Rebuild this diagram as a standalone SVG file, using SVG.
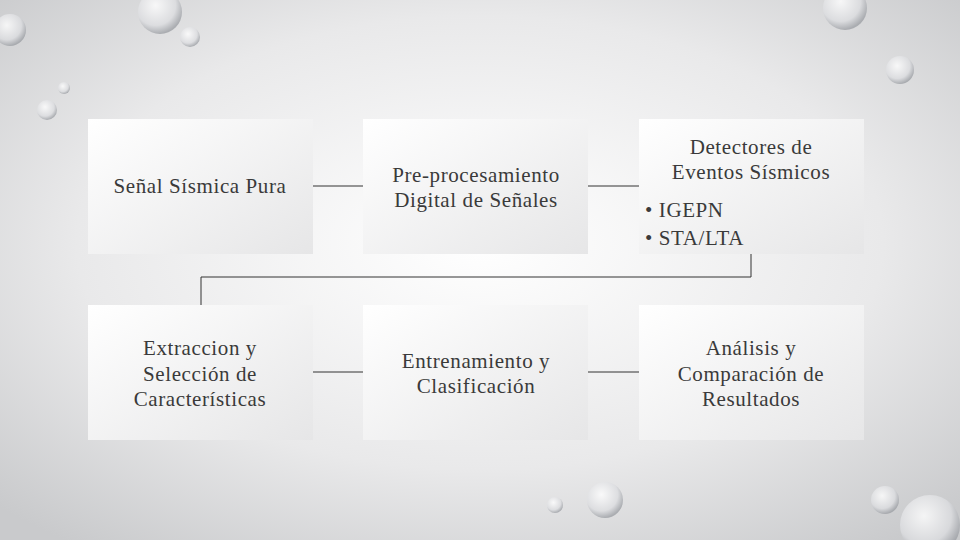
<svg xmlns="http://www.w3.org/2000/svg" width="960" height="540" viewBox="0 0 960 540">
<defs>
<radialGradient id="bg" cx="50%" cy="45%" r="70%">
<stop offset="0" stop-color="#ffffff"/><stop offset="0.6" stop-color="#e9e9ea"/><stop offset="1" stop-color="#c9cacc"/>
</radialGradient>
<linearGradient id="box" x1="0" y1="0" x2="1" y2="1">
<stop offset="0" stop-color="#ffffff"/><stop offset="1" stop-color="#e6e6e7"/>
</linearGradient>
<radialGradient id="drop" cx="40%" cy="35%" r="65%">
<stop offset="0" stop-color="#ffffff"/><stop offset="0.7" stop-color="#dcdde0"/><stop offset="1" stop-color="#9ea1a6"/>
</radialGradient>
<style>
.n{fill:url(#box)}
.t{font-family:"Liberation Serif",serif;font-size:21px;letter-spacing:0.6px;fill:#3a3a3a;text-anchor:middle}
.tl{font-family:"Liberation Serif",serif;font-size:21px;letter-spacing:0.6px;fill:#3a3a3a}
.c{stroke:#333;stroke-width:1;fill:none}
.d{fill:url(#drop);opacity:0.8}
</style>
</defs>
<rect width="960" height="540" fill="url(#bg)"/>
<g>
<circle class="d" cx="160" cy="12" r="22"/><circle class="d" cx="190" cy="37" r="10"/><circle class="d" cx="47" cy="110" r="10"/><circle class="d" cx="64" cy="88" r="6"/>
<circle class="d" cx="845" cy="8" r="22"/><circle class="d" cx="900" cy="70" r="14"/><circle class="d" cx="930" cy="525" r="30"/><circle class="d" cx="885" cy="500" r="14"/>
<circle class="d" cx="605" cy="500" r="18"/><circle class="d" cx="555" cy="505" r="8"/><circle class="d" cx="10" cy="30" r="16"/>
</g>
<g id="connectors">
<line class="c" x1="313" y1="186" x2="363" y2="186"/>
<line class="c" x1="588" y1="186" x2="639" y2="186"/>
<line class="c" x1="313" y1="372" x2="363" y2="372"/>
<line class="c" x1="588" y1="372" x2="639" y2="372"/>
<polyline class="c" points="751,254 751,277 201,277 201,305"/>
</g>
<g id="n1"><rect class="n" x="88" y="119" width="225" height="135"/><text class="t" x="200" y="193">Señal Sísmica Pura</text></g>
<g id="n2"><rect class="n" x="363" y="119" width="225" height="135"/><text class="t" x="476" y="182">Pre-procesamiento</text><text class="t" x="476" y="207">Digital de Señales</text></g>
<g id="n3"><rect class="n" x="639" y="119" width="225" height="135"/><text class="t" x="751" y="154">Detectores de</text><text class="t" x="751" y="179">Eventos Sísmicos</text><text class="tl" x="645" y="217">•  IGEPN</text><text class="tl" x="645" y="245">•  STA/LTA</text></g>
<g id="n4"><rect class="n" x="88" y="305" width="225" height="135"/><text class="t" x="200" y="355">Extraccion y</text><text class="t" x="200" y="381">Selección de</text><text class="t" x="200" y="406">Características</text></g>
<g id="n5"><rect class="n" x="363" y="305" width="225" height="135"/><text class="t" x="476" y="368">Entrenamiento y</text><text class="t" x="476" y="393">Clasificación</text></g>
<g id="n6"><rect class="n" x="639" y="305" width="225" height="135"/><text class="t" x="751" y="355">Análisis y</text><text class="t" x="751" y="381">Comparación de</text><text class="t" x="751" y="406">Resultados</text></g>
</svg>
